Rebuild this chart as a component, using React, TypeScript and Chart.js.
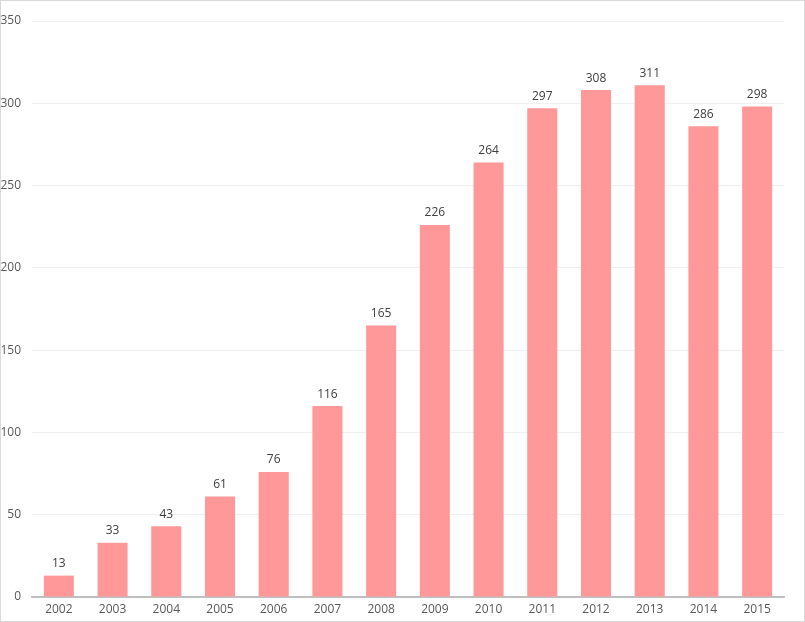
import { useEffect, useRef } from "react";
import { Chart, registerables, type ChartConfiguration, type Plugin } from "chart.js";

Chart.register(...registerables);

const YEARS = ["2002", "2003", "2004", "2005", "2006", "2007", "2008", "2009", "2010", "2011", "2012", "2013", "2014", "2015"];
const COUNTS = [13, 33, 43, 61, 76, 116, 165, 226, 264, 297, 308, 311, 286, 298];
const Y_MAX = 350;
const Y_STEP = 50;

const FONT = '"Open Sans", "Noto Sans", sans-serif';

// value above each bar
const barLabels: Plugin<"bar"> = {
  id: "barLabels",
  afterDatasetsDraw(chart) {
    const ctx = chart.ctx;
    const meta = chart.getDatasetMeta(0);
    ctx.save();
    ctx.font = `12px ${FONT}`;
    ctx.fillStyle = "#404040";
    ctx.textAlign = "center";
    ctx.textBaseline = "bottom";
    meta.data.forEach((bar, i) => {
      ctx.fillText(String(COUNTS[i]), bar.x, bar.y - 6);
    });
    ctx.restore();
  },
};

export default function App() {
  const canvasRef = useRef<HTMLCanvasElement>(null);

  useEffect(() => {
    document.body.style.margin = "0";
    if (!canvasRef.current) return;
    const config: ChartConfiguration<"bar"> = {
      type: "bar",
      data: {
        labels: YEARS,
        datasets: [
          {
            data: COUNTS,
            backgroundColor: "#ff9999",
            categoryPercentage: 1,
            barPercentage: 0.56,
          },
        ],
      },
      options: {
        animation: false,
        responsive: false,
        layout: { padding: { top: 20, right: 20, left: 0, bottom: 0 } },
        plugins: { legend: { display: false }, tooltip: { enabled: false } },
        scales: {
          x: {
            grid: { display: false, drawTicks: false },
            border: { color: "#bfbfbf", width: 2 },
            ticks: { color: "#595959", font: { family: FONT, size: 12 }, padding: 5 },
            afterFit: (s) => {
              s.height = 24;
            },
          },
          y: {
            min: 0,
            max: Y_MAX,
            grid: { color: "#efefef", drawTicks: false },
            border: { display: false },
            ticks: { stepSize: Y_STEP, color: "#595959", font: { family: FONT, size: 12 }, padding: 11 },
            afterFit: (s) => {
              s.width = 31;
            },
          },
        },
      },
      plugins: [barLabels],
    };
    const chart = new Chart(canvasRef.current, config);
    return () => chart.destroy();
  }, []);

  return (
    <div
      style={{
        position: "absolute",
        left: 0,
        top: 0,
        width: 805,
        height: 622,
        border: "1px solid #d9d9d9",
        boxSizing: "border-box",
        background: "#fff",
      }}
    >
      <canvas ref={canvasRef} width={803} height={620} style={{ display: "block" }} />
    </div>
  );
}
